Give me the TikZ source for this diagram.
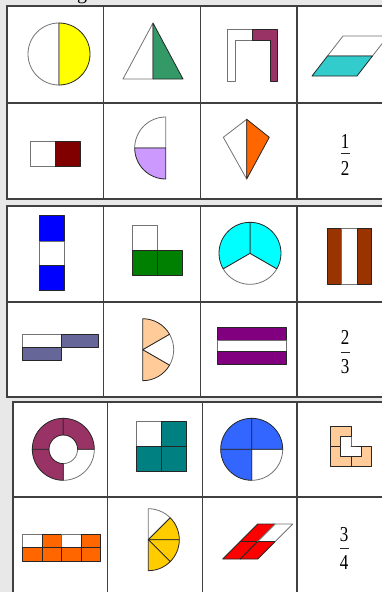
\documentclass[tikz,border=0pt]{standalone}
\usepackage{fontspec}
\setmainfont{Liberation Serif}
\usepackage{graphicx}
\definecolor{bgc}{RGB}{232,232,232}
\definecolor{gridc}{HTML}{404040}
\definecolor{cYellow}{HTML}{FFFF00}
\definecolor{cSea}{HTML}{339966}
\definecolor{cPlum}{HTML}{993366}
\definecolor{cTurq}{HTML}{33CCCC}
\definecolor{cDarkRed}{HTML}{800000}
\definecolor{cLav}{HTML}{CC99FF}
\definecolor{cOrange}{HTML}{FF6600}
\definecolor{cBlue}{HTML}{0000FF}
\definecolor{cGreen}{HTML}{008000}
\definecolor{cCyan}{HTML}{00FFFF}
\definecolor{cBrown}{HTML}{993300}
\definecolor{cSlate}{HTML}{666699}
\definecolor{cPeach}{HTML}{FFCC99}
\definecolor{cPurple}{HTML}{800080}
\definecolor{cTeal}{HTML}{008080}
\definecolor{cBlue2}{HTML}{3366FF}
\definecolor{cGold}{HTML}{FFCC00}
\definecolor{cRed}{HTML}{FF0000}
\newcommand{\fracdigit}[1]{\scalebox{1}[1.25]{#1}}
\begin{document}
\begin{tikzpicture}[x=1pt,y=-1pt,
  tbl/.style={draw=gridc, line width=1.1pt},
  wpart/.style={draw=black!55, line width=0.8pt, fill=white, line join=round},
  cpart/.style={draw=black!85, line width=0.8pt, line join=round},
  fracnum/.style={inner sep=0pt, font=\fontsize{17}{17}\selectfont},
  fracbar/.style={draw=black!85, line width=0.9pt}]
\useasboundingbox (0,0) rectangle (382,592);
\clip (0,0) rectangle (382,592);
\fill[bgc] (0,0) rectangle (382,592);
\node[anchor=base, inner sep=0pt, font=\fontsize{20}{20}\selectfont] (capg) at (82,-1) {g};

% ---------- tables ----------
\draw[tbl, fill=white] (7,6) rectangle (392,199);
\draw[tbl] (103.5,6) -- (103.5,199) (200.5,6) -- (200.5,199) (297,6) -- (297,199) (7,103) -- (392,103);
\draw[tbl, fill=white] (7,206) rectangle (392,397);
\draw[tbl] (103.5,206) -- (103.5,397) (200.5,206) -- (200.5,397) (297,206) -- (297,397) (7,302) -- (392,302);
\draw[tbl, fill=white] (13,402) rectangle (392,600);
\draw[tbl] (107.5,402) -- (107.5,600) (202.7,402) -- (202.7,600) (297,402) -- (297,600) (13,497) -- (392,497);

% ---------- row 1 ----------
\coordinate (c11) at (59,54);
\draw[wpart] (c11) ++(0,-31) arc(-90:-270:31) -- cycle;
\draw[cpart, fill=cYellow] (c11) ++(0,-31) arc(-90:90:31) -- cycle;

\draw[wpart] (153,23) -- (123,79) -- (153,79) -- cycle;
\draw[cpart, fill=cSea] (153,23) -- (183,79) -- (153,79) -- cycle;

\draw[wpart] (227,29) -- (252,29) -- (252,40) -- (235,40) -- (235,81) -- (227,81) -- cycle;
\draw[cpart, fill=cPlum] (252,29) -- (277,29) -- (277,81) -- (270,81) -- (270,40) -- (252,40) -- cycle;

\draw[wpart] (343,36) -- (388,36) -- (372.5,56) -- (327.5,56) -- cycle;
\draw[cpart, fill=cTurq] (327.5,56) -- (372.5,56) -- (357,76) -- (312,76) -- cycle;

% ---------- row 2 ----------
\draw[wpart] (30,141.7) rectangle (55,166.7);
\draw[cpart, fill=cDarkRed] (55,141.7) rectangle (80,166.7);

\coordinate (c22) at (165.7,148);
\draw[wpart] (c22) -- ++(-90:31) arc(-90:-180:31) -- cycle;
\draw[cpart, fill=cLav] (c22) -- ++(180:31) arc(180:90:31) -- cycle;

\draw[wpart] (246.7,119.3) -- (223.3,137.3) -- (246.7,179) -- cycle;
\draw[cpart, fill=cOrange] (246.7,119.3) -- (269.3,137.3) -- (246.7,179) -- cycle;

\node[fracnum] (n1) at (345,141) {\fracdigit{1}};
\node[fracnum] (d1) at (345,168) {\fracdigit{2}};
\draw[fracbar] (341.3,153.3) -- (349.7,153.3);

% ---------- row 3 ----------
\draw[cpart, fill=cBlue] (39.3,215.7) rectangle (64.3,241);
\draw[wpart] (39.3,241) rectangle (64.3,265.7);
\draw[cpart, fill=cBlue] (39.3,265.7) rectangle (64.3,290.7);

\draw[wpart] (132.7,225.3) rectangle (157.3,250.3);
\draw[cpart, fill=cGreen] (132.7,250.3) rectangle (157.3,275);
\draw[cpart, fill=cGreen] (157.3,250.3) rectangle (182.3,275);

\coordinate (c33) at (250,253.3);
\draw[wpart] (c33) -- ++(30:31) arc(30:150:31) -- cycle;
\draw[cpart, fill=cCyan] (c33) -- ++(-90:31) arc(-90:30:31) -- cycle;
\draw[cpart, fill=cCyan] (c33) -- ++(-90:31) arc(-90:-210:31) -- cycle;

\draw[cpart, fill=cBrown] (327.3,228.3) rectangle (341.7,284.3);
\draw[wpart] (341.7,228.3) rectangle (357.3,284.3);
\draw[cpart, fill=cBrown] (357.3,228.3) rectangle (371.7,284.3);

% ---------- row 4 ----------
\draw[wpart] (22.7,334) rectangle (61,347.3);
\draw[cpart, fill=cSlate] (22.7,347.3) rectangle (61,360.7);
\draw[cpart, fill=cSlate] (61,334) rectangle (98.3,347.3);

\coordinate (c42) at (142.7,349.7);
\draw[wpart] (c42) -- ++(-30:31) arc(-30:30:31) -- cycle;
\draw[cpart, fill=cPeach] (c42) -- ++(-90:31) arc(-90:-30:31) -- cycle;
\draw[cpart, fill=cPeach] (c42) -- ++(30:31) arc(30:90:31) -- cycle;

\draw[cpart, fill=cPurple] (217.3,327.3) rectangle (286,340);
\draw[wpart] (217.3,340) rectangle (286,351.7);
\draw[cpart, fill=cPurple] (217.3,351.7) rectangle (286,364);

\node[fracnum] (n2) at (345,337.5) {\fracdigit{2}};
\node[fracnum] (d2) at (345,366.3) {\fracdigit{3}};
\draw[fracbar] (341.3,352.3) -- (349.7,352.3);

% ---------- row 5 ----------
\coordinate (c51) at (63.3,449.3);
\draw[wpart] (c51) ++(0:31) arc(0:90:31) -- ++(270:16.7) arc(90:0:14.3) -- cycle;
\draw[cpart, fill=cPlum] (c51) ++(90:31) arc(90:180:31) -- ++(0:16.7) arc(180:90:14.3) -- cycle;
\draw[cpart, fill=cPlum] (c51) ++(180:31) arc(180:270:31) -- ++(90:16.7) arc(270:180:14.3) -- cycle;
\draw[cpart, fill=cPlum] (c51) ++(270:31) arc(270:360:31) -- ++(180:16.7) arc(360:270:14.3) -- cycle;

\draw[wpart] (136.7,421.7) rectangle (161.7,446.7);
\draw[cpart, fill=cTeal] (161.7,421.7) rectangle (186.7,446.7);
\draw[cpart, fill=cTeal] (136.7,446.7) rectangle (161.7,471.7);
\draw[cpart, fill=cTeal] (161.7,446.7) rectangle (186.7,471.7);

\coordinate (c53) at (251.7,449.3);
\draw[wpart] (c53) -- ++(0:31) arc(0:90:31) -- cycle;
\draw[cpart, fill=cBlue2] (c53) -- ++(90:31) arc(90:180:31) -- cycle;
\draw[cpart, fill=cBlue2] (c53) -- ++(180:31) arc(180:270:31) -- cycle;
\draw[cpart, fill=cBlue2] (c53) -- ++(270:31) arc(270:360:31) -- cycle;

\draw[wpart] (340.5,436) -- (351,436) -- (351,446) -- (361,446) -- (361,456.5) -- (340.5,456.5) -- cycle;
\draw[cpart, fill=cPeach] (330,426) -- (351,426) -- (351,436) -- (340.5,436) -- (340.5,446) -- (330,446) -- cycle;
\draw[cpart, fill=cPeach] (330,446) -- (340.5,446) -- (340.5,456.5) -- (351,456.5) -- (351,466) -- (330,466) -- cycle;
\draw[cpart, fill=cPeach] (351,446) -- (371,446) -- (371,466) -- (351,466) -- (351,456.5) -- (361,456.5) -- (361,446) -- cycle;

% ---------- row 6 ----------
\draw[wpart] (22.7,534.3) rectangle (42.2,547.7);
\draw[cpart, fill=cOrange] (42.2,534.3) rectangle (61.7,547.7);
\draw[wpart] (61.7,534.3) rectangle (81.2,547.7);
\draw[cpart, fill=cOrange] (81.2,534.3) rectangle (100.7,547.7);
\draw[cpart, fill=cOrange] (22.7,547.7) rectangle (42.2,561);
\draw[cpart, fill=cOrange] (42.2,547.7) rectangle (61.7,561);
\draw[cpart, fill=cOrange] (61.7,547.7) rectangle (81.2,561);
\draw[cpart, fill=cOrange] (81.2,547.7) rectangle (100.7,561);

\coordinate (c62) at (148.3,539.7);
\draw[wpart] (c62) -- ++(-90:31) arc(-90:-45:31) -- cycle;
\draw[cpart, fill=cGold] (c62) -- ++(-45:31) arc(-45:0:31) -- cycle;
\draw[cpart, fill=cGold] (c62) -- ++(0:31) arc(0:45:31) -- cycle;
\draw[cpart, fill=cGold] (c62) -- ++(45:31) arc(45:90:31) -- cycle;

\draw[cpart, fill=cRed] (222.7,559) -- (240.2,559) -- (257.7,541.5) -- (240.2,541.5) -- cycle;
\draw[cpart, fill=cRed] (240.2,559) -- (257.7,559) -- (275.2,541.5) -- (257.7,541.5) -- cycle;
\draw[cpart, fill=cRed] (240.2,541.5) -- (257.7,541.5) -- (275.2,524) -- (257.7,524) -- cycle;
\draw[wpart] (257.7,541.5) -- (275.2,541.5) -- (292.7,524) -- (275.2,524) -- cycle;
\draw[cpart] (257.7,541.5) -- (275.2,541.5);

\node[fracnum] (n3) at (344,534.2) {\fracdigit{3}};
\node[fracnum] (d3) at (344,562.5) {\fracdigit{4}};
\draw[fracbar] (340.3,548.3) -- (348.7,548.3);
\end{tikzpicture}
\end{document}
